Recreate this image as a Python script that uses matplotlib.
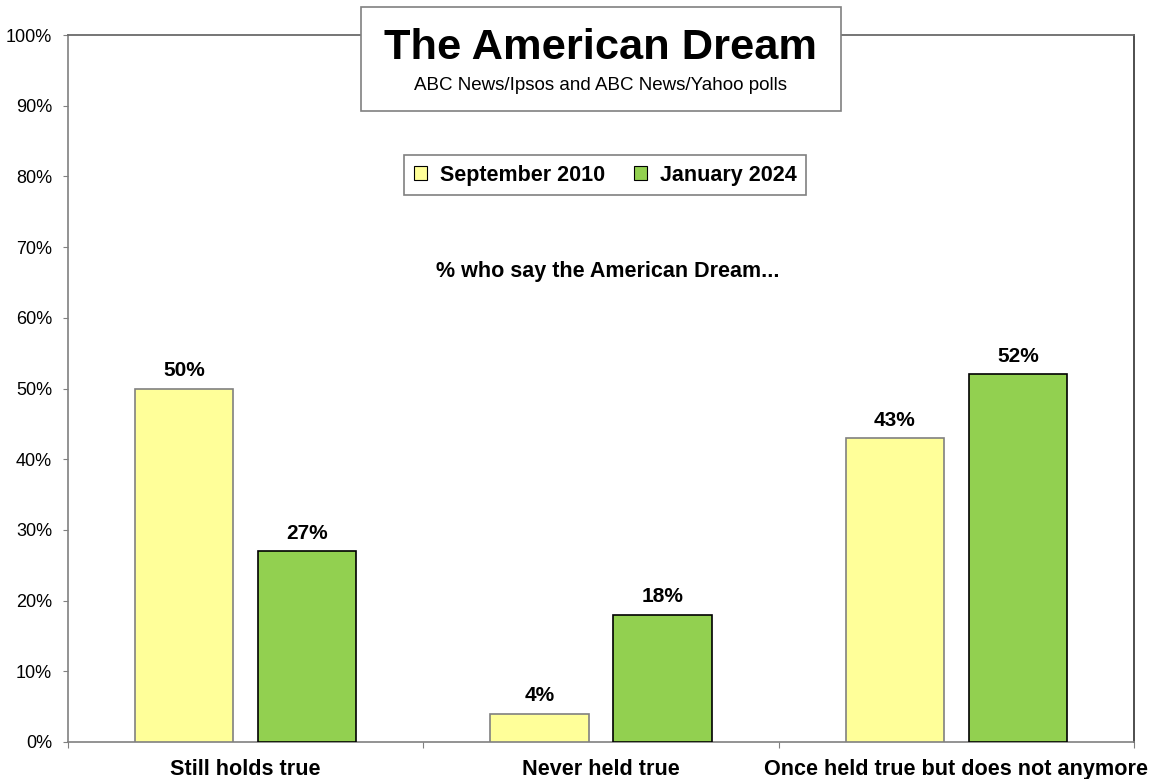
import matplotlib.pyplot as plt
import numpy as np
from matplotlib.patches import Rectangle, Patch

# data
categories = ["Still holds true", "Never held true", "Once held true but does not anymore"]
sep_2010 = [50, 4, 43]
jan_2024 = [27, 18, 52]
series_names = ["September 2010", "January 2024"]
y_ticks = [0, 10, 20, 30, 40, 50, 60, 70, 80, 90, 100]

YELLOW = "#FFFF99"
GREEN = "#92D050"
GRAY = "#808080"
DARK = "#404040"

plt.rcParams["font.family"] = ["Liberation Sans", "DejaVu Sans"]

fig = plt.figure(figsize=(11.54, 7.79), dpi=100)
ax = fig.add_axes([68 / 1154, 1 - 742 / 779, (1134 - 68) / 1154, (742 - 35) / 779])

x = np.arange(len(categories))
width = 0.276
off = 0.173
b1 = ax.bar(x - off, sep_2010, width, color=YELLOW, edgecolor=GRAY, linewidth=1.2, zorder=3)
b2 = ax.bar(x + off, jan_2024, width, color=GREEN, edgecolor="black", linewidth=1.2, zorder=3)

for bars, vals in ((b1, sep_2010), (b2, jan_2024)):
    for rect, v in zip(bars, vals):
        ax.annotate(f"{v}%", (rect.get_x() + rect.get_width() / 2, v),
                    xytext=(0, 6), textcoords="offset points",
                    ha="center", va="bottom", fontsize=15, fontweight="bold")

ax.set_xlim(-0.5, 2.5)
ax.set_ylim(0, 100)
ax.set_yticks(y_ticks)
ax.set_yticklabels([f"{t}%" for t in y_ticks], fontsize=13)
ax.set_xticks([-0.5, 0.5, 1.5, 2.5])
ax.set_xticklabels([])
ax.set_xticks(x, minor=True)
ax.set_xticklabels(categories, minor=True, fontsize=15.6, fontweight="bold")
ax.tick_params(axis="x", which="minor", length=0, pad=12)
ax.tick_params(axis="x", which="major", length=4.5, color=GRAY, direction="out")
ax.tick_params(axis="y", length=3.5, color=GRAY, direction="out", pad=8)

for s in ("left", "bottom"):
    ax.spines[s].set_color(GRAY)
    ax.spines[s].set_linewidth(1.2)
ax.spines["top"].set_color("#6a6a6a")
ax.spines["right"].set_color(DARK)
for s in ("top", "right"):
    ax.spines[s].set_linewidth(1.3)

# title box
fig.patches.append(Rectangle((361 / 1154, 1 - 111 / 779), 480 / 1154, 104 / 779,
                             transform=fig.transFigure, facecolor="white",
                             edgecolor=GRAY, linewidth=1.2, zorder=5))
fig.text(601 / 1154, 1 - 48 / 779, "The American Dream", ha="center", va="center",
         fontsize=31.2, fontweight="bold", zorder=6)
fig.text(601 / 1154, 1 - 85 / 779, "ABC News/Ipsos and ABC News/Yahoo polls",
         ha="center", va="center", fontsize=13.5, zorder=6)

# legend
handles = [Patch(facecolor=YELLOW, edgecolor="black", linewidth=0.8),
           Patch(facecolor=GREEN, edgecolor="black", linewidth=0.8)]
leg = ax.legend(handles, series_names, loc="center", ncol=2,
                bbox_to_anchor=(605 / 1154, 1 - 175 / 779), bbox_transform=fig.transFigure,
                prop={"size": 15.5, "weight": "bold"}, fancybox=False, framealpha=1,
                edgecolor=GRAY, handlelength=0.6, handleheight=0.6,
                handletextpad=0.6, columnspacing=1.35, borderpad=0.45, borderaxespad=0)
leg.get_frame().set_linewidth(1.2)

fig.text(608 / 1154, 1 - 271 / 779, "% who say the American Dream...",
         ha="center", va="center", fontsize=15.5, fontweight="bold")

fig.savefig("out.png", dpi=100)
